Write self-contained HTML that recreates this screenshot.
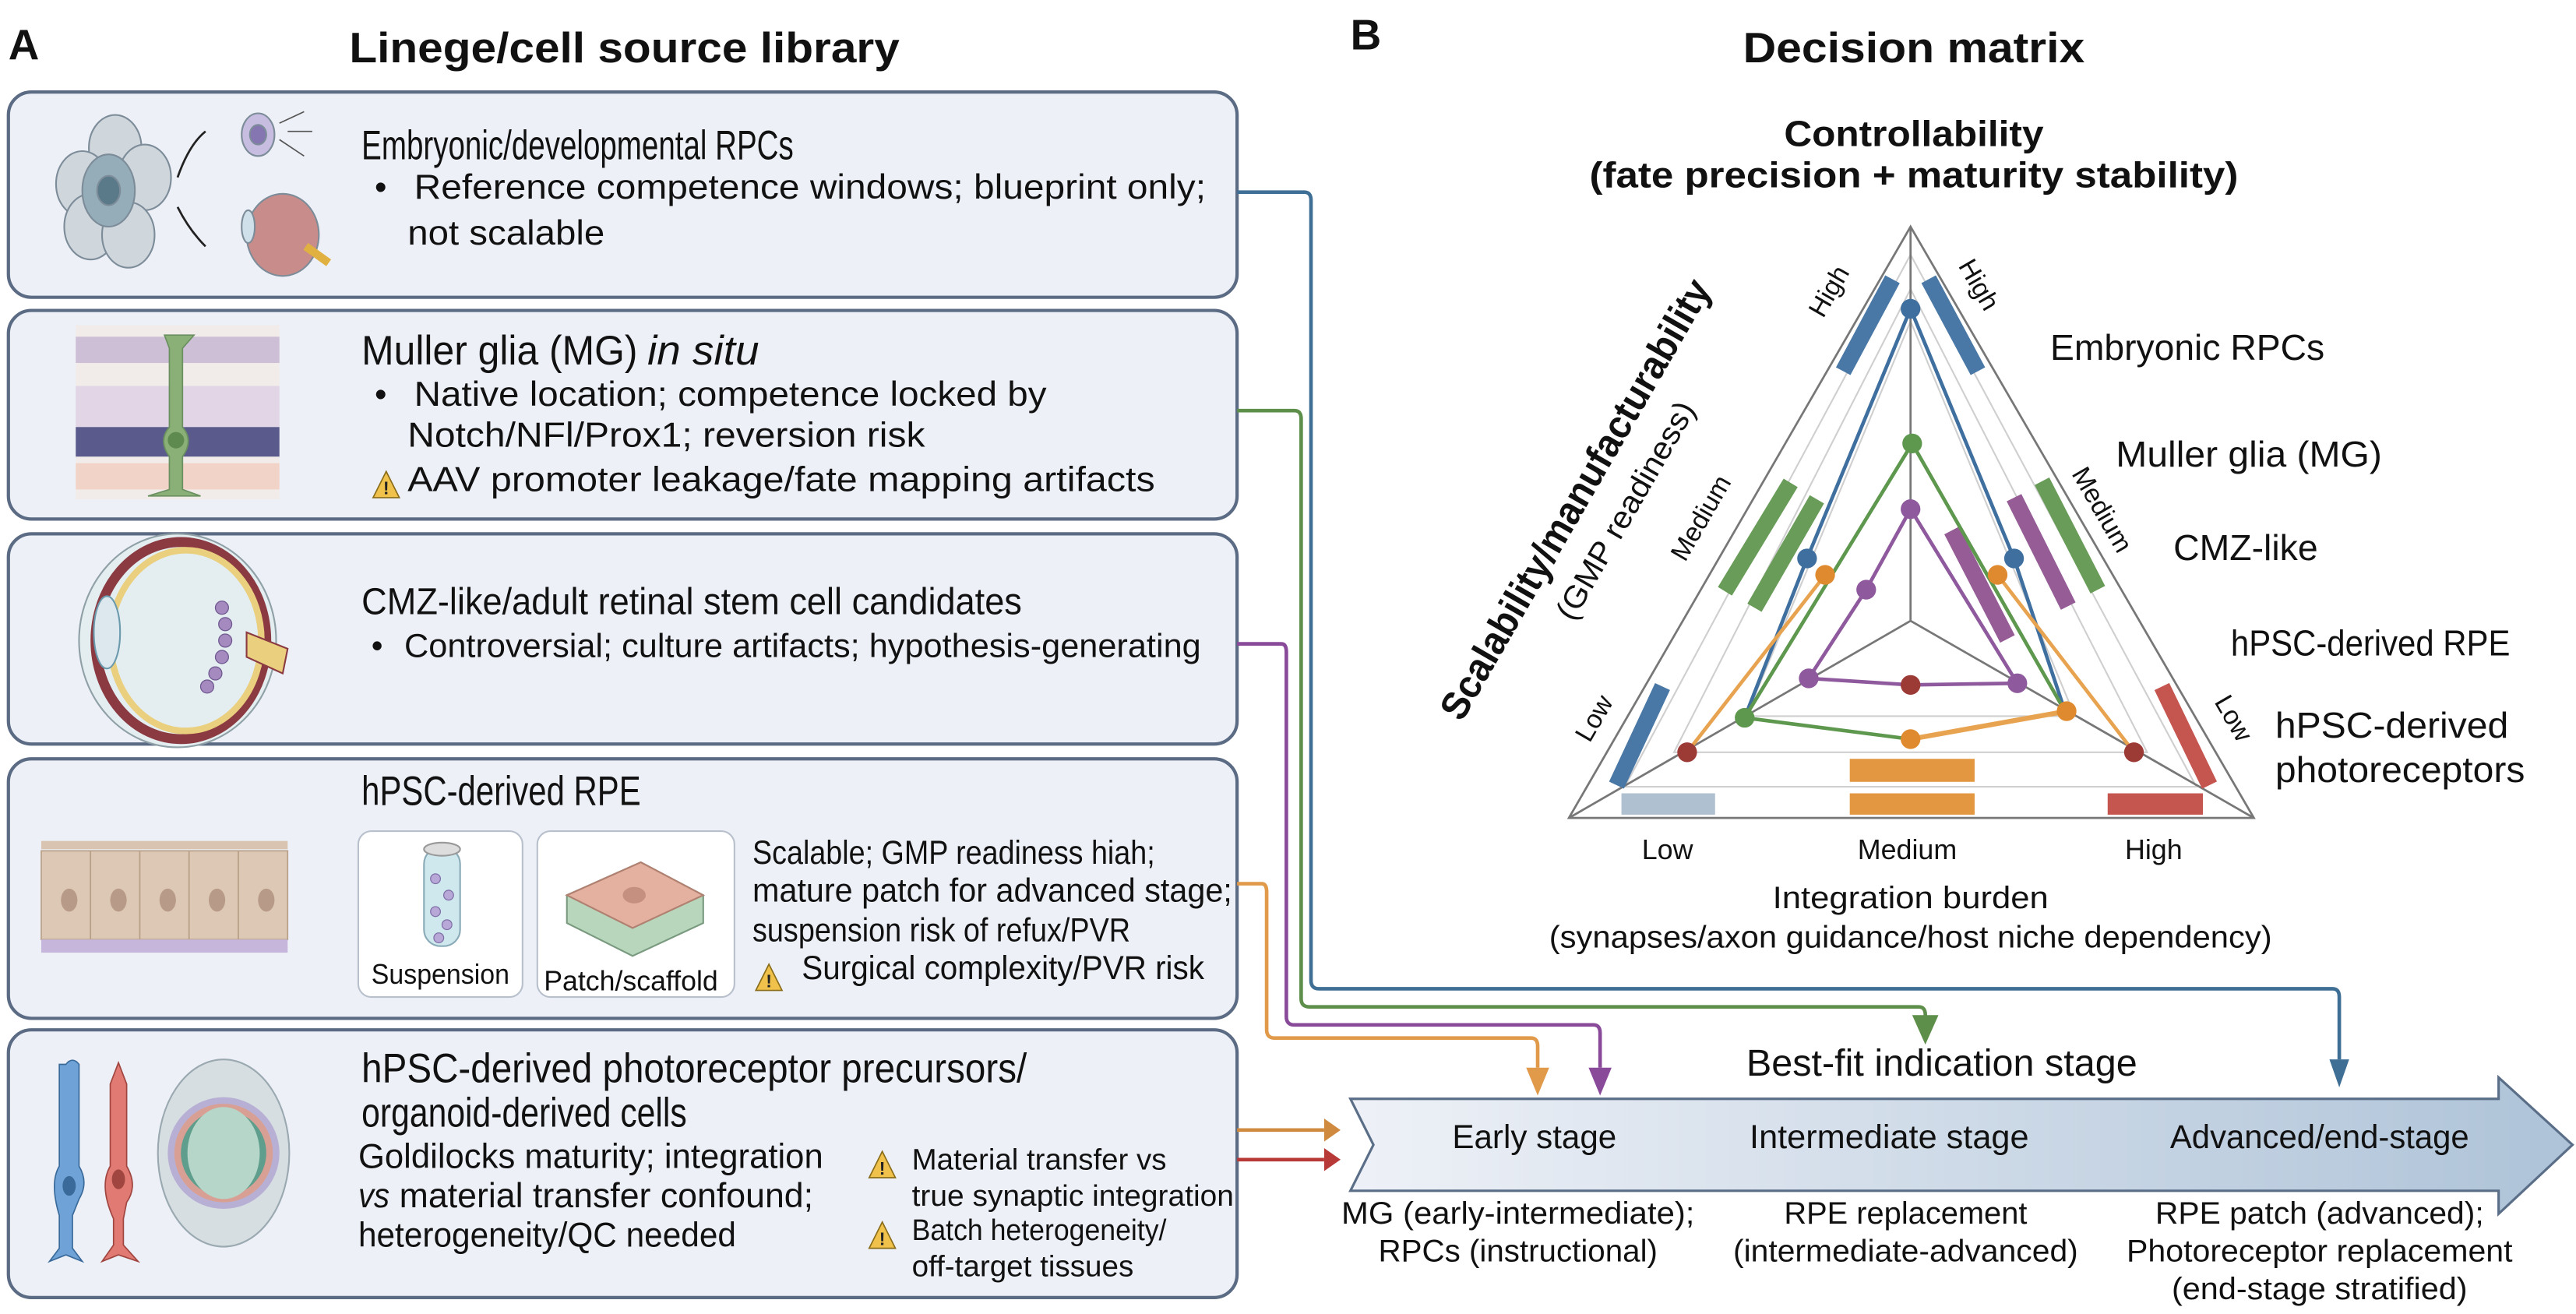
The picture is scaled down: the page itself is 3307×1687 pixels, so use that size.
<!DOCTYPE html>
<html><head><meta charset="utf-8"><style>
html,body{margin:0;padding:0;background:#fff;}
svg{display:block;}
text{font-family:"Liberation Sans",sans-serif;fill:#111;}
</style></head><body>
<svg width="3307" height="1687" viewBox="0 0 1568 800" xmlns="http://www.w3.org/2000/svg">
<defs>
<linearGradient id="ag" x1="0" x2="1" y1="0" y2="0"><stop offset="0" stop-color="#eef1f7"/><stop offset="1" stop-color="#aec3d8"/></linearGradient>
<g id="warn"><path d="M0,-11 L8,5 L-8,5 Z" fill="#f0c14b" stroke="#8a6d1a" stroke-width="0.8"/><text x="0" y="3" font-size="11" text-anchor="middle" font-weight="bold" style="fill:#222">!</text></g>
</defs>
<text x="5" y="36" font-size="26" font-weight="bold">A</text>
<text x="380" y="38" font-size="26" font-weight="bold" text-anchor="middle" textLength="335" lengthAdjust="spacingAndGlyphs">Linege/cell source library</text>
<text x="822" y="30" font-size="26" font-weight="bold">B</text>
<text x="1165" y="38" font-size="26" font-weight="bold" text-anchor="middle" textLength="208" lengthAdjust="spacingAndGlyphs">Decision matrix</text>

<g fill="#edf0f7" stroke="#5b6b84" stroke-width="2">
<rect x="5" y="56" width="748" height="125" rx="14"/>
<rect x="5" y="189" width="748" height="127" rx="14"/>
<rect x="5" y="325" width="748" height="128" rx="14"/>
<rect x="5" y="462" width="748" height="158" rx="14"/>
<rect x="5" y="627" width="748" height="163" rx="14"/>
</g>

<g stroke="#7d8c99" stroke-width="1">
<ellipse cx="70" cy="90" rx="16" ry="20" fill="#cfd6dc"/>
<ellipse cx="88" cy="108" rx="16" ry="20" fill="#cfd6dc"/>
<ellipse cx="50" cy="112" rx="16" ry="20" fill="#cfd6dc"/>
<ellipse cx="55" cy="138" rx="16" ry="20" fill="#cfd6dc"/>
<ellipse cx="78" cy="143" rx="16" ry="20" fill="#cfd6dc"/>
<ellipse cx="66" cy="116" rx="16" ry="22" fill="#94adb8"/>
<ellipse cx="66" cy="116" rx="7" ry="9" fill="#5a7a8a"/>
<ellipse cx="157" cy="82" rx="10" ry="13" fill="#c7bde0"/>
<ellipse cx="157" cy="82" rx="5" ry="6" fill="#8575b0"/>
<ellipse cx="172" cy="143" rx="22" ry="25" fill="#c88d8a"/>
<ellipse cx="151" cy="138" rx="4" ry="10" fill="#cfe0ea"/>
<path d="M186,150 L200,160" stroke="#e0b040" stroke-width="5"/>
</g>
<path d="M108,108 Q115,88 125,80" stroke="#222" fill="none" stroke-width="1.3"/>
<path d="M108,126 Q115,140 125,150" stroke="#222" fill="none" stroke-width="1.3"/>
<path d="M170,75 L185,68 M170,85 L185,95 M175,80 L190,80" stroke="#555" fill="none" stroke-width="0.8"/>
<text x="220" y="97" font-size="25" textLength="263" lengthAdjust="spacingAndGlyphs">Embryonic/developmental RPCs</text>
<text x="228" y="121" font-size="21">•</text>
<text x="252" y="121" font-size="21" textLength="482" lengthAdjust="spacingAndGlyphs">Reference competence windows; blueprint only;</text>
<text x="248" y="149" font-size="21" textLength="120" lengthAdjust="spacingAndGlyphs">not scalable</text>

<rect x="46" y="198" width="124" height="106" fill="#f1ece9"/>
<rect x="46" y="205" width="124" height="16" fill="#cdbfd6"/>
<rect x="46" y="235" width="124" height="25" fill="#e1d5e6"/>
<rect x="46" y="260" width="124" height="18" fill="#5a5b8c"/>
<rect x="46" y="282" width="124" height="16" fill="#f2d3c8"/>
<path d="M100,204 L118,204 L111,212 L111,260 Q118,268 111,278 L111,298 L122,302 L90,302 L103,298 L103,278 Q96,268 103,260 L103,212 Z" fill="#8ab077" stroke="#6a9060" stroke-width="0.8"/>
<circle cx="107" cy="268" r="5" fill="#5e8a50"/>
<text x="220" y="222" font-size="25" textLength="168" lengthAdjust="spacingAndGlyphs">Muller glia (MG)</text>
<text x="394" y="222" font-size="25" font-style="italic" textLength="68" lengthAdjust="spacingAndGlyphs">in situ</text>
<text x="228" y="247" font-size="21">•</text>
<text x="252" y="247" font-size="21" textLength="385" lengthAdjust="spacingAndGlyphs">Native location; competence locked by</text>
<text x="248" y="272" font-size="21" textLength="315" lengthAdjust="spacingAndGlyphs">Notch/NFl/Prox1; reversion risk</text>
<use href="#warn" x="235" y="298"/>
<text x="248" y="299" font-size="21" textLength="455" lengthAdjust="spacingAndGlyphs">AAV promoter leakage/fate mapping artifacts</text>

<g>
<ellipse cx="108" cy="390" rx="60" ry="65" fill="#e4eef0" stroke="#8fa0a6"/>
<ellipse cx="110" cy="390" rx="52" ry="60" fill="none" stroke="#8b3a42" stroke-width="6"/>
<ellipse cx="113" cy="390" rx="46" ry="55" fill="none" stroke="#e9cf7e" stroke-width="4"/>
<ellipse cx="65" cy="385" rx="8" ry="22" fill="#dde8ee" stroke="#6b9aae"/>
<path d="M150,385 L175,395 L172,410 L150,400Z" fill="#e9cf7e" stroke="#8b3a42"/>
<g fill="#a58ac0" stroke="#6f5890" stroke-width="0.6"><circle cx="135" cy="370" r="4"/><circle cx="137" cy="380" r="4"/><circle cx="137" cy="390" r="4"/><circle cx="135" cy="400" r="4"/><circle cx="131" cy="410" r="4"/><circle cx="126" cy="418" r="4"/></g>
</g>
<text x="220" y="374" font-size="23" textLength="402" lengthAdjust="spacingAndGlyphs">CMZ-like/adult retinal stem cell candidates</text>
<text x="226" y="400" font-size="20">•</text>
<text x="246" y="400" font-size="20" textLength="485" lengthAdjust="spacingAndGlyphs">Controversial; culture artifacts; hypothesis-generating</text>

<rect x="25" y="512" width="150" height="5" fill="#d8c4b0"/>
<g fill="#dcc8b4" stroke="#b8a088" stroke-width="0.8">
<rect x="25" y="518" width="30" height="54"/><rect x="55" y="518" width="30" height="54"/><rect x="85" y="518" width="30" height="54"/><rect x="115" y="518" width="30" height="54"/><rect x="145" y="518" width="30" height="54"/>
</g>
<g fill="#b89a88"><ellipse cx="42" cy="548" rx="5" ry="7"/><ellipse cx="72" cy="548" rx="5" ry="7"/><ellipse cx="102" cy="548" rx="5" ry="7"/><ellipse cx="132" cy="548" rx="5" ry="7"/><ellipse cx="162" cy="548" rx="5" ry="7"/></g>
<rect x="25" y="572" width="150" height="8" fill="#c6b6dc"/>
<text x="220" y="490" font-size="25" textLength="170" lengthAdjust="spacingAndGlyphs">hPSC-derived RPE</text>
<rect x="218" y="506" width="100" height="101" rx="8" fill="#fff" stroke="#b8c0cc"/>
<rect x="327" y="506" width="120" height="101" rx="8" fill="#fff" stroke="#b8c0cc"/>
<rect x="258" y="516" width="22" height="60" rx="10" fill="#cfe8ee" stroke="#8aaab8"/>
<ellipse cx="269" cy="517" rx="11" ry="4" fill="#ddd" stroke="#999"/>
<g fill="#b8a8d8" stroke="#8070a8" stroke-width="0.6"><circle cx="265" cy="535" r="3"/><circle cx="273" cy="545" r="3"/><circle cx="265" cy="555" r="3"/><circle cx="272" cy="563" r="3"/><circle cx="267" cy="571" r="3"/></g>
<path d="M345,545 L390,525 L428,545 L428,562 L385,582 L345,562 Z" fill="#b8d6bc" stroke="#7a9a80"/>
<path d="M345,545 L390,525 L428,545 L385,565 Z" fill="#e4b0a0" stroke="#b08070"/>
<ellipse cx="386" cy="545" rx="7" ry="5" fill="#c69080"/>
<text x="268" y="599" font-size="17" text-anchor="middle" textLength="84" lengthAdjust="spacingAndGlyphs">Suspension</text>
<text x="384" y="603" font-size="17" text-anchor="middle" textLength="106" lengthAdjust="spacingAndGlyphs">Patch/scaffold</text>
<text x="458" y="526" font-size="20" textLength="245" lengthAdjust="spacingAndGlyphs">Scalable; GMP readiness hiah;</text>
<text x="458" y="549" font-size="20" textLength="292" lengthAdjust="spacingAndGlyphs">mature patch for advanced stage;</text>
<text x="458" y="573" font-size="20" textLength="230" lengthAdjust="spacingAndGlyphs">suspension risk of refux/PVR</text>
<use href="#warn" x="468" y="598"/>
<text x="488" y="596" font-size="20" textLength="245" lengthAdjust="spacingAndGlyphs">Surgical complexity/PVR risk</text>

<path d="M40,648 Q44,643 48,648 L48,710 Q54,720 48,730 L44,740 L44,760 L50,768 L40,764 L30,768 L36,760 L36,740 Q30,720 36,710 L36,648 Z" fill="#6fa3d8" stroke="#3a6a9a" stroke-width="0.8"/>
<ellipse cx="42" cy="722" rx="4" ry="6" fill="#3a6a9a"/>
<path d="M72,647 L77,660 L77,710 Q84,722 77,732 L75,742 L75,758 L84,768 L72,764 L62,768 L69,758 L69,742 Q60,722 67,710 L67,660 Z" fill="#e07a72" stroke="#a04540" stroke-width="0.8"/>
<ellipse cx="72" cy="718" rx="4" ry="6" fill="#a04540"/>
<ellipse cx="136" cy="702" rx="40" ry="57" fill="#d6dee2" stroke="#9aa8b0"/>
<circle cx="136" cy="702" r="34" fill="#b8b0d4"/>
<circle cx="136" cy="702" r="30" fill="#d8a094"/>
<circle cx="136" cy="702" r="26" fill="#5f9e8c"/>
<ellipse cx="136" cy="702" rx="22" ry="28" fill="#b5d6c8"/>
<text x="220" y="659" font-size="25" textLength="405" lengthAdjust="spacingAndGlyphs">hPSC-derived photoreceptor precursors/</text>
<text x="220" y="686" font-size="25" textLength="198" lengthAdjust="spacingAndGlyphs">organoid-derived cells</text>
<text x="218" y="711" font-size="21" textLength="283" lengthAdjust="spacingAndGlyphs">Goldilocks maturity; integration</text>
<text x="218" y="735" font-size="21" font-style="italic" textLength="19" lengthAdjust="spacingAndGlyphs">vs</text>
<text x="243" y="735" font-size="21" textLength="252" lengthAdjust="spacingAndGlyphs">material transfer confound;</text>
<text x="218" y="759" font-size="21" textLength="230" lengthAdjust="spacingAndGlyphs">heterogeneity/QC needed</text>
<use href="#warn" x="537" y="712"/>
<text x="555" y="712" font-size="18" textLength="155" lengthAdjust="spacingAndGlyphs">Material transfer vs</text>
<text x="555" y="734" font-size="18" textLength="196" lengthAdjust="spacingAndGlyphs">true synaptic integration</text>
<use href="#warn" x="537" y="755"/>
<text x="555" y="755" font-size="18" textLength="155" lengthAdjust="spacingAndGlyphs">Batch heterogeneity/</text>
<text x="555" y="777" font-size="18" textLength="135" lengthAdjust="spacingAndGlyphs">off-target tissues</text>

<g fill="none" stroke-width="2.2" stroke-linejoin="round">
<path d="M753,117 L794,117 Q798,117 798,122 L798,597 Q798,602 803,602 L1420,602 Q1424,602 1424,607 L1424,645" stroke="#3f6f94"/>
<path d="M753,250 L788,250 Q792,250 792,255 L792,608 Q792,613 797,613 L1168,613 Q1172,613 1172,618 L1172,620" stroke="#5e8f4a"/>
<path d="M753,392 L780,392 Q783,392 783,397 L783,619 Q783,624 788,624 L970,624 Q974,624 974,629 L974,650" stroke="#8a4a9a"/>
<path d="M753,538 L768,538 Q771,538 771,543 L771,627 Q771,632 776,632 L932,632 Q936,632 936,637 L936,650" stroke="#e09a4a"/>
<path d="M753,688 L806,688" stroke="#d08a40"/>
<path d="M753,706 L806,706" stroke="#b83a38"/>
</g>
<path d="M1418,645 L1430,645 L1424,662 Z" fill="#3f6f94"/>
<path d="M1164,618 L1180,618 L1172,636 Z" fill="#5e8f4a"/>
<path d="M967,650 L981,650 L974,667 Z" fill="#8a4a9a"/>
<path d="M929,650 L943,650 L936,667 Z" fill="#e09a4a"/>
<path d="M806,681 L816,688 L806,695 Z" fill="#d08a40"/>
<path d="M806,699 L816,706 L806,713 Z" fill="#b83a38"/>

<path d="M822,669 L1521,669 L1521,656 L1566,697 L1521,739 L1521,725 L822,725 L836,697 Z" fill="url(#ag)" stroke="#5a6e88" stroke-width="1.5"/>
<text x="1182" y="655" font-size="23" text-anchor="middle" textLength="238" lengthAdjust="spacingAndGlyphs">Best-fit indication stage</text>
<text x="934" y="699" font-size="20" text-anchor="middle" textLength="100" lengthAdjust="spacingAndGlyphs">Early stage</text>
<text x="1150" y="699" font-size="20" text-anchor="middle" textLength="170" lengthAdjust="spacingAndGlyphs">Intermediate stage</text>
<text x="1412" y="699" font-size="20" text-anchor="middle" textLength="182" lengthAdjust="spacingAndGlyphs">Advanced/end-stage</text>
<g font-size="19" text-anchor="middle">
<text x="924" y="745" textLength="215" lengthAdjust="spacingAndGlyphs">MG (early-intermediate);</text>
<text x="924" y="768" textLength="170" lengthAdjust="spacingAndGlyphs">RPCs (instructional)</text>
<text x="1160" y="745" textLength="148" lengthAdjust="spacingAndGlyphs">RPE replacement</text>
<text x="1160" y="768" textLength="210" lengthAdjust="spacingAndGlyphs">(intermediate-advanced)</text>
<text x="1412" y="745" textLength="200" lengthAdjust="spacingAndGlyphs">RPE patch (advanced);</text>
<text x="1412" y="768" textLength="235" lengthAdjust="spacingAndGlyphs">Photoreceptor replacement</text>
<text x="1412" y="791" textLength="180" lengthAdjust="spacingAndGlyphs">(end-stage stratified)</text>
</g>

<text x="1165" y="89" font-size="22" font-weight="bold" text-anchor="middle" textLength="158" lengthAdjust="spacingAndGlyphs">Controllability</text>
<text x="1165" y="114" font-size="22" font-weight="bold" text-anchor="middle" textLength="395" lengthAdjust="spacingAndGlyphs">(fate precision + maturity stability)</text>
<g fill="none" stroke="#cfcfcf" stroke-width="1">
<path d="M1163,195.6 L1263,436 L1063,436 Z"/>
<path d="M1163,176 L1307,458 L1019,458 Z"/>
<path d="M1163,155 L1337,479 L989,479 Z"/>
</g>
<path d="M1163,138 L1372,498 L955,498 Z" fill="none" stroke="#777" stroke-width="1.3"/>
<path d="M1163,138 L1163,378 M1163,378 L955,498 M1163,378 L1372,498" stroke="#777" stroke-width="1.3"/>
<g stroke-width="10" stroke-linecap="butt">
<line x1="1152" y1="170" x2="1122" y2="226" stroke="#4a78a6"/>
<line x1="1174" y1="170" x2="1204" y2="226" stroke="#4a78a6"/>
<line x1="1090" y1="294" x2="1050" y2="360" stroke="#699c58"/>
<line x1="1106" y1="304" x2="1068" y2="370" stroke="#699c58"/>
<line x1="1243" y1="293" x2="1277" y2="359" stroke="#699c58"/>
<line x1="1226" y1="303" x2="1259" y2="369" stroke="#955c95"/>
<line x1="1188" y1="323" x2="1222" y2="389" stroke="#955c95"/>
<line x1="1012" y1="418" x2="984" y2="478" stroke="#4a78a6"/>
<line x1="1316" y1="418" x2="1345" y2="478" stroke="#c5554f"/>
</g>
<rect x="987" y="483" width="57" height="13" fill="#afc0d0"/>
<rect x="1126" y="483" width="76" height="13" fill="#e39741"/>
<rect x="1126" y="462" width="76" height="14" fill="#e39741"/>
<rect x="1283" y="483" width="58" height="13" fill="#c5554f"/>
<g fill="none" stroke-width="2.2">
<polyline points="1062,437 1100,340 1163,188 1226,340 1257,433" stroke="#3f6f9f"/>
<polyline points="1163,450 1062,437 1164,270 1257,433" stroke="#5e984e"/>
<polyline points="1027,458 1111,350" stroke="#e8a350"/>
<polyline points="1216,350 1299,458" stroke="#e8a350"/>
<polyline points="1163,450 1258,433" stroke="#e8a350" stroke-width="3"/>
<polyline points="1101,413 1136,359 1163,310 1228,416 1163,417 1101,413" stroke="#8f5a9d"/>
</g>
<g>
<circle cx="1163" cy="188" r="6" fill="#3f6f9f"/><circle cx="1100" cy="340" r="6" fill="#3f6f9f"/><circle cx="1226" cy="340" r="6" fill="#3f6f9f"/>
<circle cx="1164" cy="270" r="6" fill="#5e984e"/><circle cx="1062" cy="437" r="6" fill="#5e984e"/>
<circle cx="1111" cy="350" r="6" fill="#e08a30"/><circle cx="1216" cy="350" r="6" fill="#e08a30"/><circle cx="1163" cy="450" r="6" fill="#e08a30"/><circle cx="1258" cy="433" r="6" fill="#e08a30"/>
<circle cx="1163" cy="310" r="6" fill="#8f5a9d"/><circle cx="1136" cy="359" r="6" fill="#8f5a9d"/><circle cx="1101" cy="413" r="6" fill="#8f5a9d"/><circle cx="1228" cy="416" r="6" fill="#8f5a9d"/>
<circle cx="1027" cy="458" r="6" fill="#9c3a36"/><circle cx="1163" cy="417" r="6" fill="#9c3a36"/><circle cx="1299" cy="458" r="6" fill="#9c3a36"/>
</g>
<g font-size="16">
<text transform="translate(1118,180) rotate(-60)" text-anchor="middle">High</text>
<text transform="translate(1200,176) rotate(60)" text-anchor="middle">High</text>
<text transform="translate(1040,318) rotate(-60)" text-anchor="middle">Medium</text>
<text transform="translate(1275,313) rotate(60)" text-anchor="middle">Medium</text>
<text transform="translate(975,440) rotate(-60)" text-anchor="middle">Low</text>
<text transform="translate(1355,440) rotate(60)" text-anchor="middle">Low</text>
</g>
<text transform="translate(966,308) rotate(-60)" font-size="24" font-weight="bold" text-anchor="middle" textLength="305" lengthAdjust="spacingAndGlyphs">Scalability/manufacturability</text>
<text transform="translate(995,314) rotate(-60)" font-size="19" text-anchor="middle" textLength="150" lengthAdjust="spacingAndGlyphs">(GMP readiness)</text>
<g font-size="22">
<text x="1248" y="219" textLength="167" lengthAdjust="spacingAndGlyphs">Embryonic RPCs</text>
<text x="1288" y="284" textLength="162" lengthAdjust="spacingAndGlyphs">Muller glia (MG)</text>
<text x="1323" y="341" textLength="88" lengthAdjust="spacingAndGlyphs">CMZ-like</text>
<text x="1358" y="399" textLength="170" lengthAdjust="spacingAndGlyphs">hPSC-derived RPE</text>
<text x="1385" y="449" textLength="142" lengthAdjust="spacingAndGlyphs">hPSC-derived</text>
<text x="1385" y="476" textLength="152" lengthAdjust="spacingAndGlyphs">photoreceptors</text>
</g>
<g font-size="17" text-anchor="middle">
<text x="1015" y="523">Low</text>
<text x="1161" y="523">Medium</text>
<text x="1311" y="523">High</text>
</g>
<text x="1163" y="553" font-size="19" text-anchor="middle" textLength="168" lengthAdjust="spacingAndGlyphs">Integration burden</text>
<text x="1163" y="577" font-size="19" text-anchor="middle" textLength="440" lengthAdjust="spacingAndGlyphs">(synapses/axon guidance/host niche dependency)</text>
</svg>
</body></html>
